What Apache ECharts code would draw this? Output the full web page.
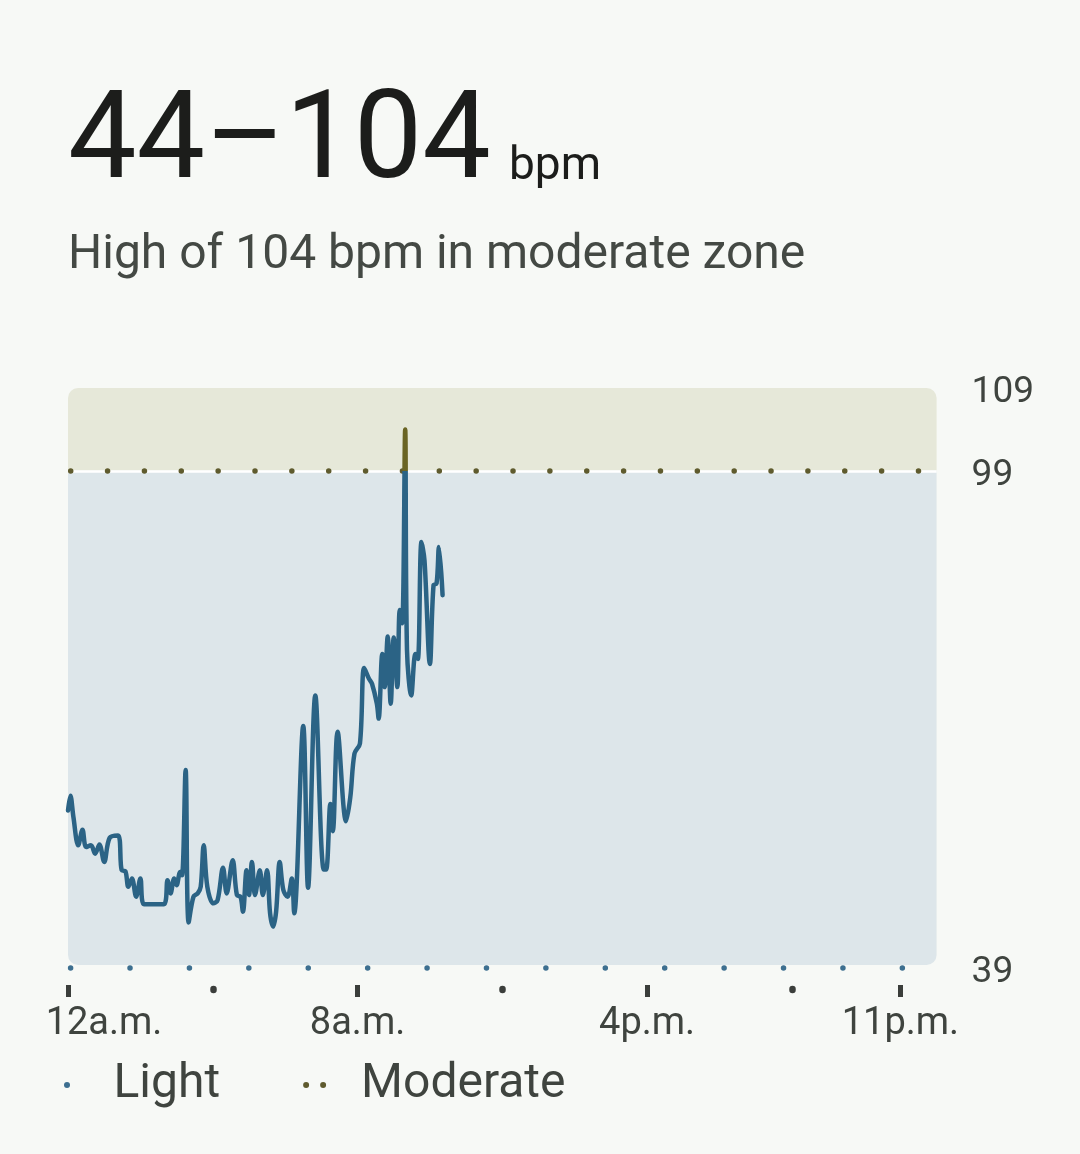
<!DOCTYPE html>
<html>
<head>
<meta charset="utf-8">
<script src="https://cdn.jsdelivr.net/npm/echarts@6/dist/echarts.min.js"></script>
<style>
  html, body { margin: 0; padding: 0; background: #f7f9f6; }
  #chart { width: 1080px; height: 1154px; }
</style>
</head>
<body>
<div id="chart"></div>
<script>
// ---- data ----
const minutes = [0, 4, 9, 17, 24, 30, 38, 45, 52, 60, 69, 83, 89, 95, 100, 106, 113, 120, 126, 159,
  165, 170, 176, 180, 186, 189, 195, 200, 208, 215, 220, 225, 231, 241, 248, 257, 263, 273, 280, 286,
  290, 296, 300, 305, 310, 318, 323, 330, 335, 340, 345, 351, 357, 364, 371, 375, 390, 398, 410, 424,
  428, 435, 439, 447, 461, 468, 475, 484, 491, 499, 504, 512, 515, 521, 525, 530, 535, 540, 546, 550,
  554, 559, 562, 569, 576, 580, 586, 591, 600, 606, 611, 615, 621];
const bpm = [58.0, 59.8, 57.2, 53.8, 55.7, 53.6, 53.8, 52.8, 53.9, 51.8, 54.7, 55.0, 50.8, 50.7, 48.8, 49.8, 47.6, 49.8, 46.7, 46.7,
  49.6, 48.0, 49.8, 49.0, 50.6, 50.2, 62.9, 44.5, 47.6, 48.0, 48.8, 53.8, 48.8, 46.8, 47.2, 51.1, 48.0, 52.0, 47.8, 47.6,
  45.8, 50.8, 47.8, 51.8, 47.8, 50.8, 47.8, 50.8, 45.6, 44.0, 45.8, 51.8, 48.4, 47.6, 49.8, 45.6, 68.2, 48.7, 71.9, 50.9,
  50.9, 58.8, 55.5, 67.5, 56.7, 59.6, 64.9, 66.1, 75.2, 73.9, 73.3, 70.9, 69.1, 76.9, 72.9, 79.0, 70.9, 78.9, 72.9, 82.2,
  80.6, 104, 77.4, 71.9, 76.9, 76.3, 90.4, 88.2, 75.7, 85.2, 85.4, 89.8, 84.0];

const xTickHours = [0, 8, 16, 23];
const xTickLabels = ['12a.m.', '8a.m.', '4p.m.', '11p.m.'];
const xDotHours = [4, 12, 20];
const yTicks = [39, 99, 109];
const zoneLightMin = 39;
const zoneModerateMin = 99;
const yMax = 109;
const seriesNames = ['Light', 'Moderate'];
const titleText = '44–104';
const unitText = 'bpm';
const subText = 'High of 104 bpm in moderate zone';

// ---- styles ----
const FONT = 'Roboto';
const C = {
  line: '#2b6385', olive: '#6a6424', oliveDot: '#5f5b2e', blueDot: '#3d6f90',
  bandBlue: '#dde6ea', bandOlive: '#e6e8d9', text: '#3f443f', title: '#1c1d1b', tick: '#3b3e3b'
};

const points = minutes.map((m, i) => [m / 60, bpm[i]]);

const chart = echarts.init(document.getElementById('chart'), null, { renderer: 'canvas' });

const option = {
  backgroundColor: '#f7f9f6',
  animation: false,
  textStyle: { fontFamily: FONT },
  grid: { left: 68, top: 388, right: 143.4, bottom: 186, containLabel: false },
  xAxis: [
    {
      type: 'value', min: 0, max: 24, offset: 17,
      axisLine: { show: false }, splitLine: { show: false },
      axisTick: { show: true, customValues: xTickHours, length: 12, lineStyle: { width: 5, color: C.tick } },
      axisLabel: {
        show: true, customValues: xTickHours, margin: 20, fontSize: 38, color: C.text, fontFamily: FONT,
        formatter: function (v) {
          const i = xTickHours.indexOf(v);
          const t = i >= 0 ? xTickLabels[i] : '';
          return i === 0 ? '{first|' + t + '}' : t;
        },
        rich: { first: { fontSize: 38, color: C.text, fontFamily: FONT, padding: [0, 0, 0, 72] } }
      }
    },
    {
      type: 'value', min: 0, max: 24, position: 'bottom', offset: 21,
      axisLine: { show: false }, splitLine: { show: false }, axisLabel: { show: false },
      axisTick: { show: true, customValues: xDotHours, length: 1, lineStyle: { width: 6.5, color: C.tick, cap: 'round' } }
    }
  ],
  yAxis: {
    type: 'value', min: zoneLightMin, max: yMax, position: 'right',
    axisLine: { show: false }, axisTick: { show: false }, splitLine: { show: false },
    axisLabel: {
      customValues: yTicks, margin: 35, color: C.text, fontFamily: FONT, fontSize: 37,
      formatter: function (v) { return '{y|' + v + '}'; },
      rich: { y: { fontSize: 37, color: C.text, fontFamily: FONT, padding: [9, 0, 0, 0] } }
    }
  },
  legend: {
    left: 59, top: 1056, itemWidth: 23, itemHeight: 6, itemGap: 83,
    textStyle: { fontSize: 48, color: C.text, fontFamily: FONT, padding: [0, 0, 0, 30] },
    selectedMode: false,
    data: [
      { name: seriesNames[0], icon: 'circle', itemStyle: { color: C.blueDot } },
      { name: seriesNames[1], icon: 'path://M0,3a3,3 0 1,0 6,0a3,3 0 1,0 -6,0M17,3a3,3 0 1,0 6,0a3,3 0 1,0 -6,0', itemStyle: { color: C.oliveDot } }
    ]
  },
  series: [
    {
      name: seriesNames[0], type: 'line', z: 5, data: points, showSymbol: false, smooth: 0.35,
      itemStyle: { color: C.line },
      lineStyle: { width: 4.5, cap: 'round', join: 'round', color: C.line }
    },
    {
      name: seriesNames[1], type: 'line', z: 1, data: [], showSymbol: false,
      itemStyle: { color: C.oliveDot },
      markLine: {
        silent: true, symbol: 'none', label: { show: false }, animation: false,
        data: [
          { yAxis: zoneModerateMin, lineStyle: { color: '#ffffff', width: 2.5, type: 'solid' } },
          { yAxis: zoneModerateMin, lineStyle: { color: C.oliveDot, width: 5.5, type: [0.01, 36.85], cap: 'round', dashOffset: -2.7 } },
          { yAxis: zoneLightMin, lineStyle: { color: C.blueDot, width: 5.5, type: [0.01, 59.4], cap: 'round', dashOffset: -2.6 } }
        ]
      }
    }
  ],
  graphic: [
    { type: 'text', id: 'big', x: 68, y: 146, z: 10, style: { text: titleText, fontSize: 122, fontFamily: FONT, fill: C.title, verticalAlign: 'middle' } },
    { type: 'text', id: 'unit', x: 509, y: 167, z: 10, style: { text: unitText, fontSize: 46, fontFamily: FONT, fill: C.title, verticalAlign: 'middle' } },
    { type: 'text', id: 'sub', x: 68, y: 256, z: 10, style: { text: subText, fontSize: 48, fontFamily: FONT, fill: '#444944', verticalAlign: 'middle' } }
  ]
};

chart.setOption(option);

// background zone bands and zone colouring, positioned through the axes' own scales
const x0 = chart.convertToPixel({ xAxisIndex: 0 }, 0);
const x1 = chart.convertToPixel({ xAxisIndex: 0 }, 24);
const yTop = chart.convertToPixel({ yAxisIndex: 0 }, yMax);
const yMid = chart.convertToPixel({ yAxisIndex: 0 }, zoneModerateMin);
const yBot = chart.convertToPixel({ yAxisIndex: 0 }, zoneLightMin);
const split = (yMid - yTop) / (yBot - yTop);
const zoneGradient = new echarts.graphic.LinearGradient(0, yTop, 0, yBot, [
  { offset: 0, color: C.olive },
  { offset: split, color: C.olive },
  { offset: split, color: C.line },
  { offset: 1, color: C.line }
], true);

chart.setOption({
  series: [{ lineStyle: { color: zoneGradient } }],
  graphic: [
    { type: 'rect', id: 'bandOlive', z: -1, silent: true, shape: { x: x0, y: yTop, width: x1 - x0, height: yMid - yTop, r: [10, 10, 0, 0] }, style: { fill: C.bandOlive } },
    { type: 'rect', id: 'bandBlue', z: -1, silent: true, shape: { x: x0, y: yMid, width: x1 - x0, height: yBot - 3 - yMid, r: [0, 0, 10, 10] }, style: { fill: C.bandBlue } }
  ]
});
</script>
</body>
</html>
